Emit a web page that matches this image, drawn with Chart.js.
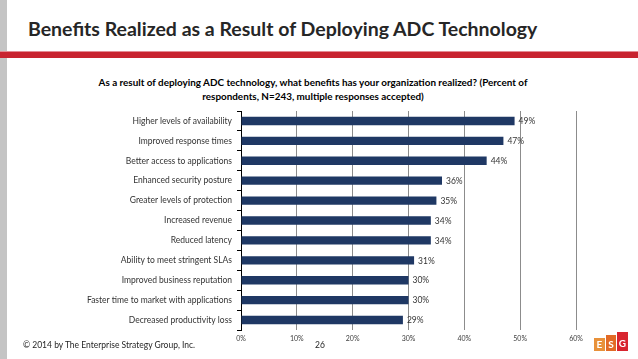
<!DOCTYPE html>
<html>
<head>
<meta charset="utf-8">
<script src="https://cdn.jsdelivr.net/npm/chart.js@4"></script>
<style>
  html, body { margin: 0; padding: 0; background: #fff; }
  body { width: 638px; height: 359px; position: relative; overflow: hidden; font-family: Lato, "Open Sans", sans-serif; }
  .abs { position: absolute; white-space: nowrap; }
  #strip { left: 0; top: 0; width: 7px; height: 359px; background: #c4c4c4; }
  #rule { left: 0; top: 51px; width: 638px; height: 6px; background: #c8232f; border-top: 1px solid #e48a92; }
  #title { left: 28px; top: 19px; font-size: 19.5px; line-height: 19.5px; font-weight: bold; color: #262626; }
  #question { left: 0; top: 75px; width: 626px; text-align: center; font-size: 9.9px; line-height: 14px; font-weight: bold; color: #000; }
  #footer { left: 23px; top: 340px; font-size: 8.5px; line-height: 10px; color: #262626; }
  #page { left: 315px; top: 340px; font-size: 8.5px; line-height: 10px; color: #262626; }
  .logo { position: absolute; color: #fff; font-weight: bold; font-size: 10px; text-align: center; line-height: 14px; }
  #wrap { left: 0; top: 0; width: 638px; height: 359px; }
</style>
</head>
<body>
<div id="strip" class="abs"></div>
<div id="rule" class="abs"></div>
<div id="title" class="abs">Benefits Realized as a Result of Deploying ADC Technology</div>
<div id="question" class="abs">As a result of deploying ADC technology, what benefits has your organization realized? (Percent of<br>respondents, N=243, multiple responses accepted)</div>
<div id="wrap" class="abs"><canvas id="chart" width="638" height="359"></canvas></div>
<div id="footer" class="abs">© 2014 by The Enterprise Strategy Group, Inc.</div>
<div id="page" class="abs">26</div>
<div class="logo" style="left:594px;top:338px;width:11px;height:13px;background:#e8913a;line-height:13px;">E</div>
<div class="logo" style="left:606px;top:335px;width:10px;height:16px;background:#e26a26;line-height:18px;">S</div>
<div class="logo" style="left:617px;top:332px;width:11px;height:19px;background:#d8252f;line-height:22px;">G</div>
<script>
const categories = [
  'Higher levels of availability',
  'Improved response times',
  'Better access to applications',
  'Enhanced security posture',
  'Greater levels of protection',
  'Increased revenue',
  'Reduced latency',
  'Ability to meet stringent SLAs',
  'Improved business reputation',
  'Faster time to market with applications',
  'Decreased productivity loss'
];
const percentValues = [49, 47, 44, 36, 35, 34, 34, 31, 30, 30, 29];
const axisTicks = [0, 10, 20, 30, 40, 50, 60];

// value labels to the right of each bar
const barLabels = {
  id: 'barLabels',
  afterDatasetsDraw(chart) {
    const ctx = chart.ctx;
    const meta = chart.getDatasetMeta(0);
    ctx.save();
    ctx.font = '8.5px Lato, "Open Sans", sans-serif';
    ctx.fillStyle = '#333';
    ctx.textAlign = 'left';
    ctx.textBaseline = 'middle';
    meta.data.forEach((bar, i) => {
      ctx.fillText(percentValues[i] + '%', bar.x + 4, bar.y + 0.5);
    });
    ctx.restore();
  }
};

new Chart(document.getElementById('chart'), {
  type: 'bar',
  data: {
    labels: categories,
    datasets: [{
      data: percentValues,
      backgroundColor: '#1f3864',
      borderWidth: 0,
      barPercentage: 0.42,
      categoryPercentage: 1
    }]
  },
  plugins: [barLabels],
  options: {
    indexAxis: 'y',
    responsive: false,
    animation: false,
    layout: { padding: { top: 111, right: 62, bottom: 0, left: 0 } },
    plugins: {
      legend: { display: false },
      tooltip: { enabled: false }
    },
    scales: {
      x: {
        min: axisTicks[0],
        max: axisTicks[axisTicks.length - 1],
        afterBuildTicks: (scale) => { scale.ticks = axisTicks.map(v => ({ value: v })); },
        afterFit: (scale) => { scale.height = 29; },
        ticks: {
          callback: (v) => v + '%',
          font: { size: 7, family: 'Lato, "Open Sans", sans-serif' },
          color: '#404040',
          padding: 5,
          maxRotation: 0
        },
        grid: { color: '#8c8c8c', drawTicks: false, lineWidth: 1 },
        border: { display: false }
      },
      y: {
        afterFit: (scale) => { scale.width = 241; },
        ticks: {
          font: { size: 8.5, family: 'Lato, "Open Sans", sans-serif' },
          color: '#333',
          padding: 5,
          autoSkip: false
        },
        grid: { drawOnChartArea: false, drawTicks: true, tickLength: 4, color: '#000' },
        border: { color: '#000', width: 1 }
      }
    }
  }
});
</script>
</body>
</html>
